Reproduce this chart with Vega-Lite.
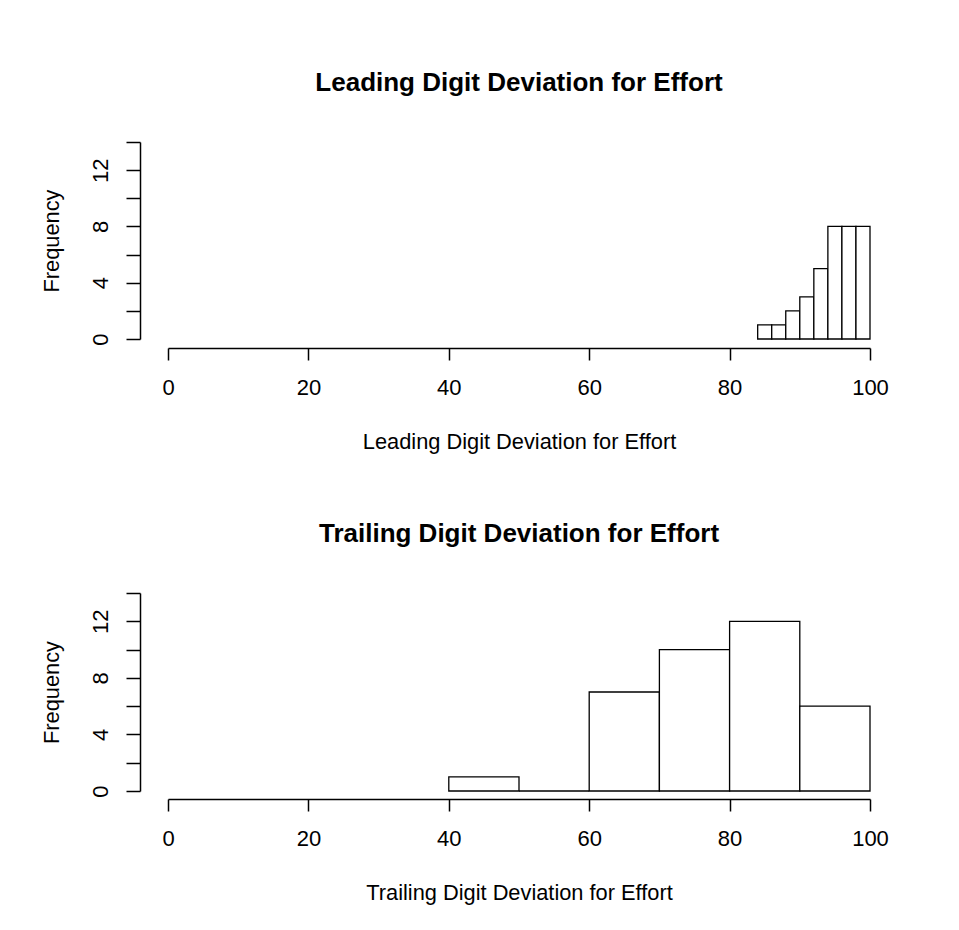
{
  "$schema": "https://vega.github.io/schema/vega-lite/v6.json",
  "background": "white",
  "padding": {"left": 41, "top": 70, "right": 50, "bottom": 5},
  "spacing": 68,
  "config": {
    "font": "Liberation Sans",
    "view": {"stroke": null},
    "axis": {
      "grid": false,
      "domainColor": "black",
      "tickColor": "black",
      "labelColor": "black",
      "titleColor": "black",
      "labelFont": "Liberation Sans",
      "titleFont": "Liberation Sans",
      "labelFontSize": 22,
      "titleFontSize": 21.8,
      "titleFontWeight": "normal",
      "domainWidth": 1.5,
      "tickWidth": 1.5
    },
    "title": {"font": "Liberation Sans", "fontSize": 26, "fontWeight": "bold", "color": "black", "anchor": "middle"}
  },
  "datasets": {
    "leading": [
      {"bin_start": 84, "bin_end": 86, "count": 1},
      {"bin_start": 86, "bin_end": 88, "count": 1},
      {"bin_start": 88, "bin_end": 90, "count": 2},
      {"bin_start": 90, "bin_end": 92, "count": 3},
      {"bin_start": 92, "bin_end": 94, "count": 5},
      {"bin_start": 94, "bin_end": 96, "count": 8},
      {"bin_start": 96, "bin_end": 98, "count": 8},
      {"bin_start": 98, "bin_end": 100, "count": 8}
    ],
    "trailing": [
      {"bin_start": 40, "bin_end": 50, "count": 1},
      {"bin_start": 50, "bin_end": 60, "count": 0},
      {"bin_start": 60, "bin_end": 70, "count": 7},
      {"bin_start": 70, "bin_end": 80, "count": 10},
      {"bin_start": 80, "bin_end": 90, "count": 12},
      {"bin_start": 90, "bin_end": 100, "count": 6}
    ]
  },
  "vconcat": [
    {
      "width": 702,
      "height": 197,
      "title": {"text": "Leading Digit Deviation for Effort", "offset": 45},
      "data": {"name": "leading"},
      "mark": {"type": "rect", "fill": "white", "stroke": "black", "strokeWidth": 1.3},
      "encoding": {
        "x": {"field": "bin_start", "type": "quantitative", "scale": {"domain": [0, 100], "nice": false},
          "axis": {"title": "Leading Digit Deviation for Effort", "values": [0, 20, 40, 60, 80, 100], "offset": 9, "tickSize": 12, "labelPadding": 17, "titlePadding": 33, "labelFlush": false}},
        "x2": {"field": "bin_end"},
        "y": {"field": "count", "type": "quantitative", "scale": {"domain": [0, 14], "nice": false},
          "axis": {"title": "Frequency", "values": [0, 2, 4, 6, 8, 10, 12, 14], "labelExpr": "datum.value % 4 == 0 ? datum.label : ''", "offset": 28, "tickSize": 14, "labelAngle": -90, "labelAlign": "center", "labelBaseline": "bottom", "labelPadding": 14, "titlePadding": 26, "labelFlush": false}},
        "y2": {"datum": 0}
      }
    },
    {
      "width": 702,
      "height": 198,
      "title": {"text": "Trailing Digit Deviation for Effort", "offset": 45},
      "data": {"name": "trailing"},
      "mark": {"type": "rect", "fill": "white", "stroke": "black", "strokeWidth": 1.3},
      "encoding": {
        "x": {"field": "bin_start", "type": "quantitative", "scale": {"domain": [0, 100], "nice": false},
          "axis": {"title": "Trailing Digit Deviation for Effort", "values": [0, 20, 40, 60, 80, 100], "offset": 8, "tickSize": 12, "labelPadding": 17, "titlePadding": 33, "labelFlush": false}},
        "x2": {"field": "bin_end"},
        "y": {"field": "count", "type": "quantitative", "scale": {"domain": [0, 14], "nice": false},
          "axis": {"title": "Frequency", "values": [0, 2, 4, 6, 8, 10, 12, 14], "labelExpr": "datum.value % 4 == 0 ? datum.label : ''", "offset": 28, "tickSize": 14, "labelAngle": -90, "labelAlign": "center", "labelBaseline": "bottom", "labelPadding": 14, "titlePadding": 26, "labelFlush": false}},
        "y2": {"datum": 0}
      }
    }
  ]
}
